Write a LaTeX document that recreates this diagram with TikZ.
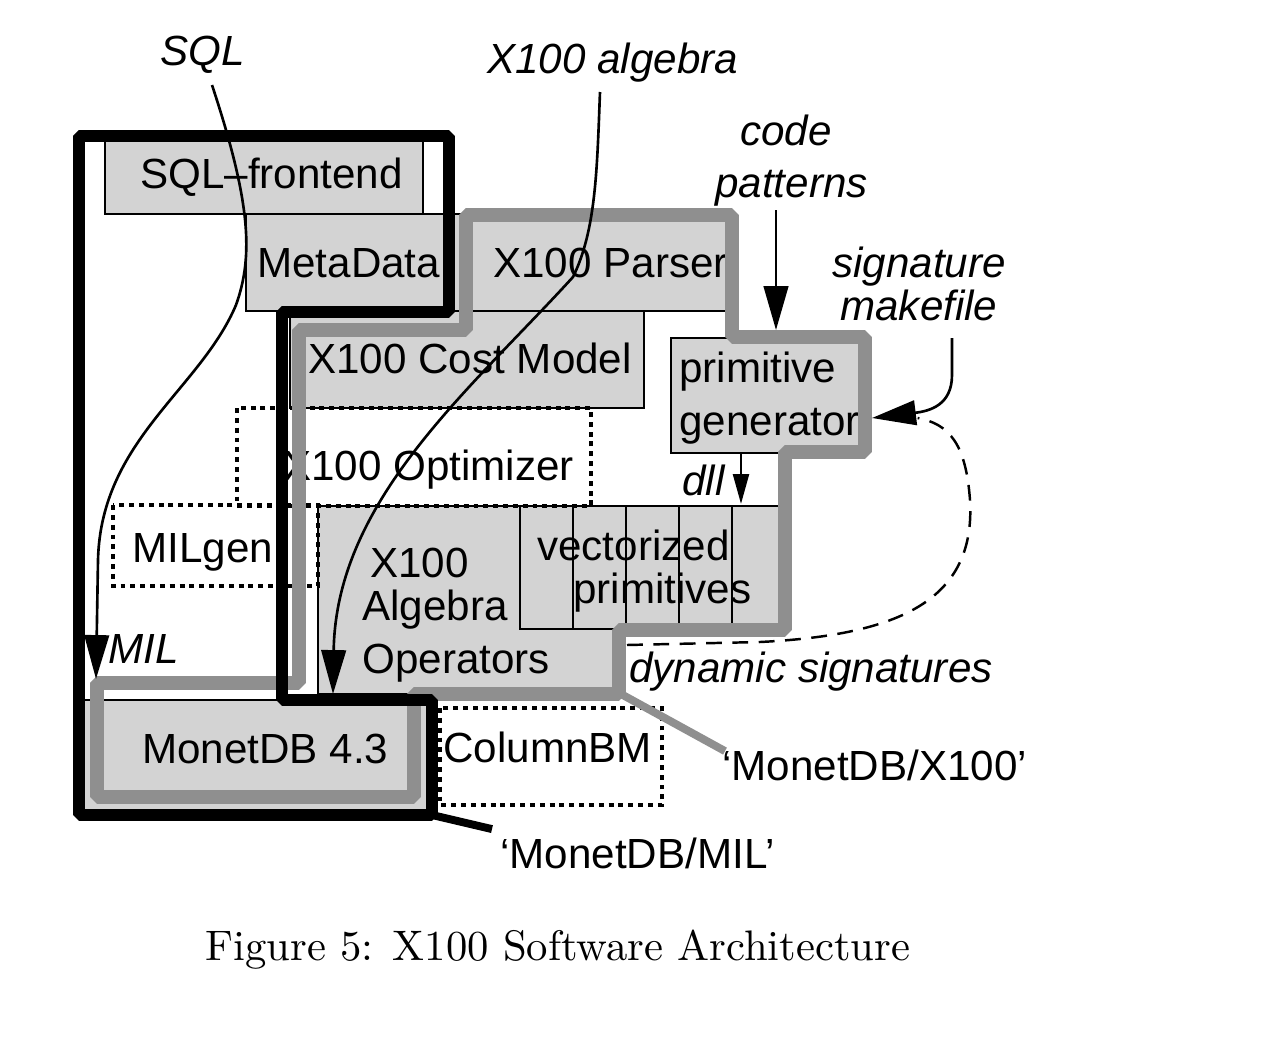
\documentclass[tikz,border=0pt]{standalone}
\usepackage{fontspec}
\newfontfamily\helv{Liberation Sans}
\usetikzlibrary{arrows.meta}
\definecolor{boxgray}{RGB}{211,211,211}
\definecolor{rimgray}{RGB}{143,143,143}

\begin{document}
\begin{tikzpicture}[x=0.02cm,y=-0.02cm]
\tikzstyle{box}=[fill=boxgray,draw=black,line width=0.6pt]
\tikzstyle{dotbox}=[draw,line width=2.6pt,dash pattern=on 2.8pt off 2.8pt]
\tikzstyle{txt}=[inner sep=0pt,anchor=base west,font=\helv\fontsize{24}{28}\selectfont]
\tikzstyle{itxt}=[txt,font=\helv\itshape\fontsize{24}{28}\selectfont]
\tikzstyle{flow}=[line width=1.5pt,-{Triangle[length=25pt,width=14pt]}]
\tikzstyle{smallflow}=[line width=1.5pt,-{Triangle[length=17pt,width=9pt]}]
\tikzstyle{rim}=[draw=rimgray,line width=7.9pt,line join=bevel]
\tikzstyle{milrim}=[draw=black,line width=6.8pt,line join=bevel]

\useasboundingbox (0,0) rectangle (1276,1062);

% components
\filldraw[box] (105,136) rectangle (423,214);
\filldraw[box] (246,214) rectangle (466,311);
\filldraw[box] (466,215) rectangle (732,311);
\filldraw[box] (290,311) rectangle (644,408);
\filldraw[box] (671,338) rectangle (865,453);
\filldraw[box] (318,506) rectangle (619,694);
\filldraw[box] (520,506) rectangle (785,629);
\foreach \x in {573,626,679,732}
  \draw[line width=0.6pt] (\x,506) -- (\x,629);
\filldraw[box] (79,700) rectangle (432,815);

\draw[dotbox] (237,408) rectangle (591,506);
\draw[dotbox] (113,505) rectangle (318,586);
\draw[dotbox] (440,708) rectangle (662,805);

\node[txt] (front) at (140,188) {SQL–frontend};
\node[txt] (meta) at (257,277) {MetaData};
\node[txt] (parser) at (493,277) {X100 Parser};
\node[txt] (cost) at (308,373) {X100 Cost Model};
\node[txt] (gen1) at (679,382) {primitive};
\node[txt] (gen2) at (679,435) {generator};
\node[txt] (opt) at (283,480) {X100 Optimizer};
\node[txt] (milgen) at (132,562) {MILgen};
\node[txt] (ops1) at (370,577) {X100};
\node[txt] (ops2) at (362,620) {Algebra};
\node[txt] (ops3) at (362,673) {Operators};
\node[txt] (vec1) at (537,560) {vectorized};
\node[txt] (vec2) at (573,603) {primitives};
\node[txt] (monet) at (142,763) {MonetDB 4.3};
\node[txt] (colbm) at (443,762) {ColumnBM};

% the two systems
\draw[rim] (466,215) -- (732,215) -- (732,337) -- (865,337) -- (865,452)
  -- (785,452) -- (785,630) -- (619,630) -- (619,694) -- (414,694)
  -- (414,797) -- (97,797) -- (97,683) -- (299,683) -- (299,330)
  -- (466,330) -- cycle;
\draw[milrim] (79,136) -- (449,136) -- (449,312) -- (282,312) -- (282,700)
  -- (432,700) -- (432,815) -- (79,815) -- cycle;

% inputs
\node[itxt] (sqllbl) at (160,65) {SQL};
\node[itxt] (alglbl) at (487,73) {X100 algebra};
\node[itxt] (codelbl) at (740,145) {code};
\node[itxt] (patlbl) at (715,197) {patterns};
\node[itxt] (siglbl) at (832,277) {signature};
\node[itxt] (makelbl) at (840,320) {makefile};
\node[itxt] (dlllbl) at (682,495) {dll};
\node[itxt] (millbl) at (108,663) {MIL};
\node[itxt] (dynlbl) at (629,682) {dynamic signatures};

\coordinate (miltip) at (96,679);
\coordinate (algtip) at (333,694);
\coordinate (codetip) at (776,330);
\coordinate (sigtip) at (872,418);
\coordinate (dllsrc) at (741,453);
\coordinate (dlltip) at (741,504);
\coordinate (dynsrc) at (627,645);

\draw[flow] ([shift={(52,20)}]sqllbl.base west) .. controls (250,200) and (254,255) .. (236,305)
  .. controls (200,390) and (101,440) .. (98,560) -- (miltip);
\draw[flow] ([shift={(113,19)}]alglbl.base west) .. controls (597,170) and (596,230) .. (573,277)
  .. controls (470,390) and (336,500) .. (algtip);
\draw[flow] ([shift={(61,13)}]patlbl.base west) -- (codetip);
\draw[flow] ([shift={(112,18)}]makelbl.base west) -- (952,375) .. controls (952,405) and (930,411) .. (sigtip);
\draw[smallflow] (dllsrc) -- (dlltip);
\draw[line width=1.4pt,dash pattern=on 9pt off 6pt] (dynsrc) -- (760,642)
  .. controls (900,635) and (976,600) .. (970,500) .. controls (966,445) and (950,424) .. ([xshift=26pt]sigtip);

% names
\node[txt] (x100lbl) at (722,780) {‘MonetDB/X100’};
\node[txt] (millbl2) at (500,868) {‘MonetDB/MIL’};
\coordinate (x100corner) at (621,694);
\coordinate (milcorner) at (432,815);
\draw[draw=rimgray,line width=4.5pt] (x100corner) -- ([shift={(3,2)}]x100lbl.north west);
\draw[line width=4.5pt] (milcorner) -- ([shift={(-8,-8)}]millbl2.north west);

\node[anchor=base,scale=2.43] (caption) at (558,960) {Figure 5: X100 Software Architecture};
\end{tikzpicture}
\end{document}
